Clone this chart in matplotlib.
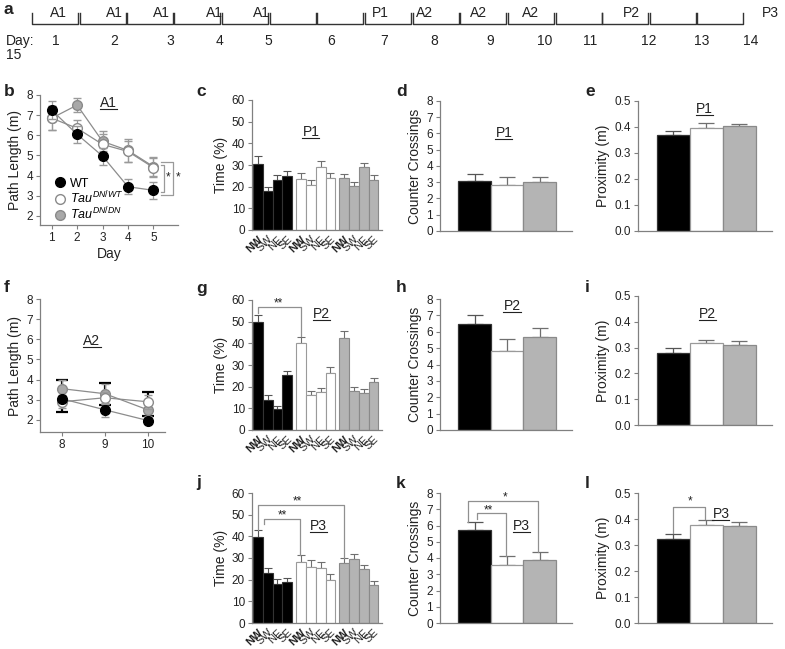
import numpy as np
import matplotlib as mpl
from matplotlib import pyplot as plt
from matplotlib.lines import Line2D

plt.rcParams['font.family'] = ['Liberation Sans', 'DejaVu Sans']
plt.rcParams['mathtext.fontset'] = 'custom'
plt.rcParams['mathtext.rm'] = 'Liberation Sans'
plt.rcParams['mathtext.it'] = 'Liberation Sans:italic'
plt.rcParams['mathtext.bf'] = 'Liberation Sans:bold'

W, H = 785, 649

# ---------------- data ----------------
tl_days = [str(d) for d in range(1, 15)]
tl_sessions = ['A1', 'A1', 'A1', 'A1', 'A1', '', 'P1', 'A2', 'A2', 'A2', '', 'P2', '', '', 'P3']

groups = ['WT', r'$\mathit{Tau}^{\mathit{DN/WT}}$', r'$\mathit{Tau}^{\mathit{DN/DN}}$']

a1_days = [1, 2, 3, 4, 5]
a1_wt = [7.25, 6.05, 4.97, 3.45, 3.27]
a1_wt_err = [0.45, 0.42, 0.42, 0.38, 0.42]
a1_dnwt = [6.85, 6.35, 5.55, 5.2, 4.4]
a1_dnwt_err = [0.6, 0.4, 0.5, 0.5, 0.45]
a1_dndn = [6.85, 7.5, 5.7, 5.25, 4.45]
a1_dndn_err = [0.6, 0.35, 0.5, 0.55, 0.45]

a2_days = [8, 9, 10]
a2_wt = [3.05, 2.5, 1.97]
a2_wt_err = [0.2, 0.35, 0.15]
a2_dnwt = [2.9, 3.1, 2.9]
a2_dnwt_err = [0.3, 0.3, 0.35]
a2_dndn = [3.55, 3.3, 2.5]
a2_dndn_err = [0.45, 0.5, 0.3]
a2_black_mid = [3.2, 3.3, 2.8]
a2_black_err = [0.8, 0.55, 0.6]

quadrants = ['NW', 'SW', 'NE', 'SE']
p1_time_wt = [30.5, 18, 23, 25]
p1_time_dnwt = [23.5, 21, 29, 24]
p1_time_dndn = [24, 20.5, 29, 23.3]
p1_time_wt_err = [3.5, 1.8, 2.2, 2.3]
p1_time_dnwt_err = [2.7, 2, 2.7, 2.5]
p1_time_dndn_err = [2, 1.8, 2, 2]

p2_time_wt = [50, 14, 9.5, 25.5]
p2_time_dnwt = [40, 16, 17.5, 26.5]
p2_time_dndn = [42.5, 18, 17.3, 22]
p2_time_wt_err = [3, 2, 1.8, 1.8]
p2_time_dnwt_err = [3, 2, 2, 2.8]
p2_time_dndn_err = [3.2, 1.8, 1.8, 2]

p3_time_wt = [39.5, 23, 18, 18.7]
p3_time_dnwt = [28, 26, 25.5, 20]
p3_time_dndn = [27.5, 29.5, 24.8, 17.5]
p3_time_wt_err = [3.5, 2.5, 2.5, 2.3]
p3_time_dnwt_err = [3.5, 3, 2.5, 2.7]
p3_time_dndn_err = [2.5, 2.2, 2.2, 1.8]

cross_p1 = [3.05, 2.85, 3.0]
cross_p1_err = [0.45, 0.45, 0.35]
cross_p2 = [6.5, 4.85, 5.7]
cross_p2_err = [0.55, 0.7, 0.5]
cross_p3 = [5.75, 3.55, 3.9]
cross_p3_err = [0.45, 0.6, 0.5]

prox_p1 = [0.368, 0.397, 0.403]
prox_p1_err = [0.015, 0.017, 0.01]
prox_p2 = [0.28, 0.316, 0.31]
prox_p2_err = [0.017, 0.015, 0.015]
prox_p3 = [0.325, 0.378, 0.373]
prox_p3_err = [0.017, 0.018, 0.015]

# ---------------- style ----------------
FILL = ['black', 'white', '#b4b4b4']
EDGE = ['#333333', '#9a9a9a', '#8a8a8a']
SPINE = '#808080'
ERR = '#6f6f6f'
TXT = '#222222'
TICK_FS = 8.5
LAB_FS = 10

fig = plt.figure(figsize=(W / 100, H / 100), dpi=100)
underlined = []


def ax_px(l, t, r, b):
    return fig.add_axes([l / W, 1 - b / H, (r - l) / W, (b - t) / H])


def style(ax, ylabel):
    for s in ['top', 'right']:
        ax.spines[s].set_visible(False)
    for s in ['left', 'bottom']:
        ax.spines[s].set_color(SPINE)
        ax.spines[s].set_linewidth(0.9)
    ax.tick_params(axis='y', colors=SPINE, labelcolor=TXT, labelsize=TICK_FS,
                   length=3, width=0.8, pad=2)
    ax.set_ylabel(ylabel, fontsize=LAB_FS, color=TXT, labelpad=3)


def ptext(ax, x, y, s):
    t = ax.text(x, y, s, ha='center', va='center', fontsize=10, color=TXT)
    underlined.append(t)


def bracket(ax, x0, x1, yl, yr, ytop, star, xs, ys):
    ax.plot([x0, x0, x1, x1], [yl, ytop, ytop, yr], color='#909090', lw=0.9,
            clip_on=False)
    ax.text(xs, ys, star, ha='center', va='center', fontsize=8.5, color=TXT)


def panel_label(x, y, s):
    fig.text(x / W, 1 - y / H, s, fontsize=12.5, fontweight='bold',
             ha='left', va='center', color=TXT)


# ---------------- a: timeline ----------------
axa = fig.add_axes([0, 0, 1, 1])
axa.set_xlim(0, W)
axa.set_ylim(H, 0)
axa.axis('off')
seg_x = [32, 80, 127, 174, 222, 270, 317, 365, 413, 460, 508, 556, 602, 650, 697]
seg_w = 46
for i, s in enumerate(tl_sessions):
    x0 = seg_x[i]
    axa.plot([x0, x0, x0 + seg_w, x0 + seg_w], [13, 24, 24, 13], color='#333333', lw=1)
ses_x = [58, 114, 161, 214, 261, 0, 380, 425, 479, 531, 0, 631, 0, 0, 770]
for s, x in zip(tl_sessions, ses_x):
    if s:
        axa.text(x, 13, s, ha='center', va='center', fontsize=10, color=TXT)
day_x = [56, 114, 170, 220, 268, 331, 384, 434, 490, 545, 590, 649, 702, 751]
axa.text(6, 41, 'Day:', ha='left', va='center', fontsize=10, color=TXT)
for d, x in zip(tl_days, day_x):
    axa.text(x, 41, d, ha='center', va='center', fontsize=10, color=TXT)
axa.text(6, 55, '15', ha='left', va='center', fontsize=10, color=TXT)
panel_label(4, 9, 'a')


# ---------------- b / f: path length ----------------
def line_panel(ax, days, series, errs):
    mfc = ['black', 'white', '#a8a8a8']
    mec = ['black', '#8a8a8a', '#8a8a8a']
    for k in [2, 1, 0]:
        ax.errorbar(days, series[k], yerr=errs[k], fmt='-o', color='#8c8c8c',
                    lw=0.9, ecolor='#9a9a9a', elinewidth=0.9, capsize=3,
                    markersize=7, markerfacecolor=mfc[k], markeredgecolor=mec[k],
                    zorder=3 + (2 - k))
    style(ax, 'Path Length (m)')
    ax.set_ylim(None, 8)
    ax.set_yticks(range(2, 9))
    ax.set_xticks(days)
    ax.tick_params(axis='x', colors=SPINE, labelcolor=TXT, labelsize=TICK_FS,
                   length=3, width=0.8, pad=2)


axb = ax_px(40, 95, 178, 225)
line_panel(axb, a1_days, [a1_wt, a1_dnwt, a1_dndn], [a1_wt_err, a1_dnwt_err, a1_dndn_err])
axb.set_ylim(1.55, 8)
axb.set_xlim(0.54, 5.97)
axb.set_xlabel('Day', fontsize=LAB_FS, color=TXT, labelpad=2)
ptext(axb, 3.25, 7.6, 'A1')
bx_in, bx_out = 5.43, 5.77
axb.plot([5.3, bx_in, bx_in, 5.3], [4.55, 4.55, 3.2, 3.2], color='#9a9a9a', lw=0.9)
axb.plot([5.3, bx_out, bx_out, 5.3], [4.68, 4.68, 3.05, 3.05], color='#9a9a9a', lw=0.9)
axb.text(bx_in + 0.14, 3.9, '*', ha='center', va='center', fontsize=8.5, color=TXT)
axb.text(bx_out + 0.22, 3.9, '*', ha='center', va='center', fontsize=8.5, color=TXT)
mfc = ['black', 'white', '#a8a8a8']
mec = ['black', '#8a8a8a', '#8a8a8a']
handles = [Line2D([], [], ls='none', marker='o', markersize=7,
                  markerfacecolor=mfc[k], markeredgecolor=mec[k]) for k in range(3)]
axb.legend(handles, groups, loc='lower left', bbox_to_anchor=(0.03, -0.05),
           frameon=False, fontsize=9, handletextpad=0.2, labelspacing=0.0,
           handlelength=1.2, borderpad=0.2)
panel_label(4, 92, 'b')

axf = ax_px(40, 299, 165, 432)
for d, m, e in zip(a2_days, a2_black_mid, a2_black_err):
    axf.errorbar(d, m, yerr=e, fmt='none', ecolor='black', elinewidth=1.6,
                 capsize=4, capthick=1.6, zorder=2)
line_panel(axf, a2_days, [a2_wt, a2_dnwt, a2_dndn], [a2_wt_err, a2_dnwt_err, a2_dndn_err])
axf.set_ylim(1.4, 8)
axf.set_xlim(7.49, 10.4)
ptext(axf, 8.7, 5.9, 'A2')
panel_label(4, 288, 'f')


# ---------------- c / g / j: quadrant time ----------------
def quad_panel(ax, series, errs):
    ticks, labels = [], []
    for g in range(3):
        x = np.arange(4) + g * 4.4
        ax.bar(x, series[g], width=1, color=FILL[g], edgecolor=EDGE[g], lw=0.8, zorder=2)
        ax.errorbar(x, series[g], yerr=[np.zeros(4), errs[g]], fmt='none',
                    ecolor=ERR if g else '#555555', elinewidth=0.8, capsize=3,
                    capthick=0.8, zorder=1)
        ticks += list(x)
        labels += quadrants
    style(ax, 'Time (%)')
    ax.set_ylim(0, 60)
    ax.set_yticks(range(0, 61, 10))
    ax.set_xlim(-0.6, 12.66)
    ax.set_xticks(ticks)
    ax.set_xticklabels(labels, rotation=45, ha='right', va='top',
                       rotation_mode='anchor', fontsize=8, color=TXT)
    for lab in ax.get_xticklabels()[::4]:
        lab.set_fontweight('bold')
    ax.tick_params(axis='x', length=0, pad=3)


axc = ax_px(252, 100, 382, 230)
quad_panel(axc, [p1_time_wt, p1_time_dnwt, p1_time_dndn],
           [p1_time_wt_err, p1_time_dnwt_err, p1_time_dndn_err])
ptext(axc, 5.4, 45.4, 'P1')
panel_label(196, 92, 'c')

axg = ax_px(252, 300, 382, 430)
quad_panel(axg, [p2_time_wt, p2_time_dnwt, p2_time_dndn],
           [p2_time_wt_err, p2_time_dnwt_err, p2_time_dndn_err])
ptext(axg, 6.5, 53.4, 'P2')
bracket(axg, 0, 4.4, 54, 43.5, 56.6, '**', 2.05, 58.3)
panel_label(196, 288, 'g')

axj = ax_px(252, 493, 382, 623)
quad_panel(axj, [p3_time_wt, p3_time_dnwt, p3_time_dndn],
           [p3_time_wt_err, p3_time_dnwt_err, p3_time_dndn_err])
ptext(axj, 6.2, 44.6, 'P3')
bracket(axj, 0, 8.8, 43, 30, 54.3, '**', 4.0, 56.3)
bracket(axj, 0.6, 4.3, 45.5, 31.5, 47.8, '**', 2.45, 49.7)
panel_label(196, 483, 'j')


# ---------------- d / h / k  and  e / i / l ----------------
def group_panel(ax, vals, errs, ylabel, ymax, step, fmt):
    x = np.arange(3)
    for k in range(3):
        ax.bar(x[k], vals[k], width=1, color=FILL[k], edgecolor=EDGE[k], lw=0.9, zorder=2)
        ax.errorbar(x[k], vals[k], yerr=[[0], [errs[k]]], fmt='none',
                    ecolor=ERR if k else '#555555', elinewidth=0.9, capsize=6,
                    capthick=0.9, zorder=1)
    style(ax, ylabel)
    ax.set_ylim(0, ymax)
    ax.set_yticks(np.arange(0, ymax + step / 2, step))
    ax.yaxis.set_major_formatter(mpl.ticker.FormatStrFormatter(fmt))
    ax.set_xticks([])
    ax.set_xlim(-1.07, 3.0)


axd = ax_px(440, 101, 572, 231)
group_panel(axd, cross_p1, cross_p1_err, 'Counter Crossings', 8, 1, '%d')
ptext(axd, 0.9, 6.0, 'P1')
panel_label(396, 92, 'd')

axh = ax_px(440, 299, 572, 430)
group_panel(axh, cross_p2, cross_p2_err, 'Counter Crossings', 8, 1, '%d')
ptext(axh, 1.15, 7.6, 'P2')
panel_label(396, 288, 'h')

axk = ax_px(440, 493, 572, 623)
group_panel(axk, cross_p3, cross_p3_err, 'Counter Crossings', 8, 1, '%d')
ptext(axk, 1.45, 5.95, 'P3')
bracket(axk, -0.2, 1.95, 6.2, 4.4, 7.5, '*', 0.94, 7.7)
bracket(axk, 0.07, 0.97, 6.4, 4.15, 6.77, '**', 0.43, 6.95)
panel_label(396, 483, 'k')

axe = ax_px(638, 101, 772, 231)
group_panel(axe, prox_p1, prox_p1_err, 'Proximity (m)', 0.5, 0.1, '%.1f')
ptext(axe, 0.95, 0.47, 'P1')
panel_label(585, 92, 'e')

axi = ax_px(638, 296, 772, 425)
group_panel(axi, prox_p2, prox_p2_err, 'Proximity (m)', 0.5, 0.1, '%.1f')
ptext(axi, 1.05, 0.43, 'P2')
panel_label(585, 288, 'i')

axl = ax_px(638, 493, 772, 623)
group_panel(axl, prox_p3, prox_p3_err, 'Proximity (m)', 0.5, 0.1, '%.1f')
ptext(axl, 1.45, 0.42, 'P3')
bracket(axl, 0, 0.96, 0.345, 0.4, 0.446, '*', 0.5, 0.466)
panel_label(585, 483, 'l')

# underline the session labels
fig.canvas.draw()
inv = fig.transFigure.inverted()
for t in underlined:
    bb = t.get_window_extent()
    (x0, y0), (x1, _) = inv.transform([[bb.x0, bb.y0 + 1], [bb.x1, bb.y0]])
    fig.add_artist(Line2D([x0, x1], [y0, y0], transform=fig.transFigure,
                          color=TXT, lw=0.8))

fig.savefig('out.png', dpi=100)
